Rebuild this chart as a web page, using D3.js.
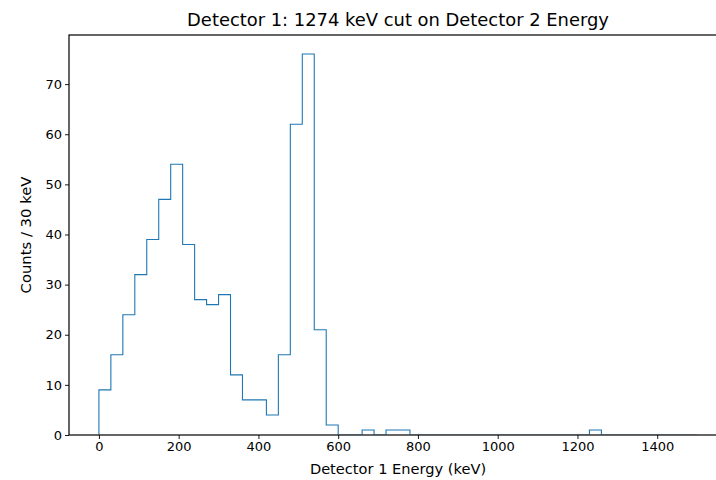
<!DOCTYPE html>
<html>
<head>
<meta charset="utf-8">
<script src="https://d3js.org/d3.v7.min.js"></script>
<style>
  body { margin: 0; background: #fff; }
  text { font-family: "DejaVu Sans", sans-serif; fill: #000; }
</style>
</head>
<body>
<svg id="chart" width="716" height="480"></svg>
<script>
// histogram bins of 30 keV, from 0 to 1500 keV
const binWidth = 30;
const binStart = 0;
const counts = [
  9, 16, 24, 32, 39, 47, 54, 38, 27, 26,
  28, 12, 7, 7, 4, 16, 62, 76, 21, 2,
  0, 0, 1, 0, 1, 1, 0, 0, 0, 0,
  0, 0, 0, 0, 0, 0, 0, 0, 0, 0,
  0, 1, 0, 0, 0, 0, 0, 0, 0, 0
];
const xTicks = [0, 200, 400, 600, 800, 1000, 1200, 1400];
const yTicks = [0, 10, 20, 30, 40, 50, 60, 70];

const svg = d3.select("#chart");
const margin = { left: 69, right: 727, top: 35, bottom: 435 };

const xMax = binStart + counts.length * binWidth;
const pad = (xMax - binStart) * 0.05;
const x = d3.scaleLinear().domain([binStart - pad, xMax + pad]).range([margin.left, margin.right]);
const y = d3.scaleLinear().domain([0, d3.max(counts) * 1.05]).range([margin.bottom, margin.top]);

// keep the histogram inside the axes so the zero line stays under the spine
svg.append("clipPath").attr("id", "plotclip")
  .append("rect")
  .attr("x", margin.left).attr("y", margin.top)
  .attr("width", margin.right - margin.left).attr("height", margin.bottom - margin.top - 0.6);

// step outline, like histtype='step'
let pts = [[binStart, 0]];
counts.forEach((c, i) => {
  pts.push([binStart + i * binWidth, c]);
  pts.push([binStart + (i + 1) * binWidth, c]);
});
pts.push([xMax, 0]);

svg.append("path")
  .attr("d", d3.line().x(d => x(d[0])).y(d => y(d[1]))(pts))
  .attr("clip-path", "url(#plotclip)")
  .attr("fill", "none")
  .attr("stroke", "#1f77b4")
  .attr("stroke-width", 1.1);

// axes
let xAxis = d3.axisBottom(x).tickValues(xTicks).tickSize(4).tickPadding(3).tickFormat(d3.format("d"));
let yAxis = d3.axisLeft(y).tickValues(yTicks).tickSize(4).tickPadding(3).tickFormat(d3.format("d"));

let gx = svg.append("g").attr("transform", `translate(0,${margin.bottom})`).call(xAxis);
let gy = svg.append("g").attr("transform", `translate(${margin.left},0)`).call(yAxis);
[gx, gy].forEach(g => {
  g.select(".domain").remove();
  g.selectAll("text").style("font-size", "13px").style("font-family", "DejaVu Sans, sans-serif").attr("fill", "#000");
  g.selectAll("line").attr("stroke", "#000").attr("stroke-width", 0.9);
});

// spines
svg.append("rect")
  .attr("x", margin.left).attr("y", margin.top)
  .attr("width", margin.right - margin.left).attr("height", margin.bottom - margin.top)
  .attr("fill", "none").attr("stroke", "#000").attr("stroke-width", 1.2);

// labels
svg.append("text")
  .attr("x", (margin.left + margin.right) / 2).attr("y", 26)
  .attr("text-anchor", "middle").style("font-size", "17.9px")
  .text("Detector 1: 1274 keV cut on Detector 2 Energy");

svg.append("text")
  .attr("x", (margin.left + margin.right) / 2).attr("y", 474)
  .attr("text-anchor", "middle").style("font-size", "14.6px")
  .text("Detector 1 Energy (keV)");

svg.append("text")
  .attr("transform", `translate(31,${(margin.top + margin.bottom) / 2}) rotate(-90)`)
  .attr("text-anchor", "middle").style("font-size", "14.8px")
  .text("Counts / 30 keV");
</script>
</body>
</html>
